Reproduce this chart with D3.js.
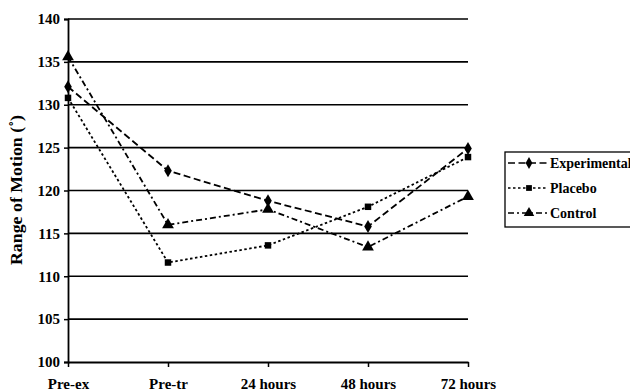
<!DOCTYPE html>
<html><head><meta charset="utf-8">
<script src="https://cdn.jsdelivr.net/npm/d3@7"></script>
<style>body{margin:0;background:#fff}svg{display:block}</style>
</head><body><svg id="c" width="630" height="392"></svg>
<script>
const categories = ["Pre-ex", "Pre-tr", "24 hours", "48 hours", "72 hours"];
const experimental = [132.1, 122.3, 118.8, 115.8, 124.9];
const placebo = [130.8, 111.6, 113.6, 118.1, 123.9];
const control = [135.6, 116.0, 117.8, 113.4, 119.3];
const yTicks = [100, 105, 110, 115, 120, 125, 130, 135, 140];
const seriesNames = ["Experimental", "Placebo", "Control"];

const FONT = "'Liberation Serif', 'Times New Roman', 'DejaVu Serif', serif";
const svg = d3.select("#c");
const x = d3.scalePoint().domain(categories).range([68, 468]);
const y = d3.scaleLinear().domain([100, 140]).range([362, 19]);

// gridlines
svg.append("g").selectAll("line").data(yTicks.filter(d => d > 100)).join("line")
  .attr("x1", 68).attr("x2", 468).attr("y1", d => y(d)).attr("y2", d => y(d))
  .attr("stroke", "#000").attr("stroke-width", 1.6);

const yAxis = svg.append("g").attr("transform", "translate(68,0)")
  .call(d3.axisLeft(y).tickValues(yTicks).tickSize(4).tickPadding(4));
yAxis.attr("font-family", null).attr("font-size", null);
yAxis.select(".domain").attr("stroke-width", 1.8);
yAxis.selectAll(".tick line").attr("stroke-width", 1.5);
yAxis.selectAll("text").attr("fill", "#000")
  .style("font-family", FONT).style("font-weight", "bold").style("font-size", "15px");

const xAxis = svg.append("g").attr("transform", "translate(0,362)")
  .call(d3.axisBottom(x).tickSize(5).tickPadding(11).tickSizeOuter(0));
xAxis.attr("font-family", null).attr("font-size", null);
xAxis.select(".domain").attr("stroke-width", 1.8);
xAxis.selectAll(".tick line").attr("stroke-width", 1.5);
xAxis.selectAll("text").attr("fill", "#000")
  .style("font-family", FONT).style("font-weight", "bold").style("font-size", "15px");

svg.append("text").attr("transform", "translate(22,190) rotate(-90)")
  .attr("text-anchor", "middle")
  .style("font-family", FONT).style("font-weight", "bold").style("font-size", "16px")
  .attr("textLength", 150).attr("lengthAdjust", "spacingAndGlyphs")
  .text("Range of Motion (˚)");

const dashes = ["7,3.5", "2.5,2.5", "6,3,2,3"];
const syms = [d3.symbolDiamond, d3.symbolSquare, d3.symbolTriangle];
const sizes = [50, 42, 60];
const data = [experimental, placebo, control];

const line = d3.line().x((d, i) => x(categories[i])).y(d => y(d));
data.forEach((vals, k) => {
  svg.append("path").datum(vals).attr("d", line).attr("fill", "none")
    .attr("stroke", "#000").attr("stroke-width", 1.8).attr("stroke-dasharray", dashes[k]);
  svg.append("g").selectAll("path").data(vals).join("path")
    .attr("transform", (d, i) => `translate(${x(categories[i])},${y(d)})`)
    .attr("d", d3.symbol().type(syms[k]).size(sizes[k])).attr("fill", "#000");
});

// legend
const lg = svg.append("g");
lg.append("rect").attr("x", 505).attr("y", 152).attr("width", 140).attr("height", 75)
  .attr("fill", "#fff").attr("stroke", "#000").attr("stroke-width", 1.3);
const rows = [163, 188, 213];
seriesNames.forEach((n, k) => {
  lg.append("line").attr("x1", 508).attr("x2", 548).attr("y1", rows[k]).attr("y2", rows[k])
    .attr("stroke", "#000").attr("stroke-width", 1.6).attr("stroke-dasharray", dashes[k]);
  lg.append("path").attr("transform", `translate(529,${rows[k]})`)
    .attr("d", d3.symbol().type(syms[k]).size(sizes[k] * 0.8)).attr("fill", "#000");
  lg.append("text").attr("x", 550).attr("y", rows[k]).attr("dy", "0.35em")
    .style("font-family", FONT).style("font-weight", "bold").style("font-size", "14px")
    .text(n);
});
</script></body></html>
